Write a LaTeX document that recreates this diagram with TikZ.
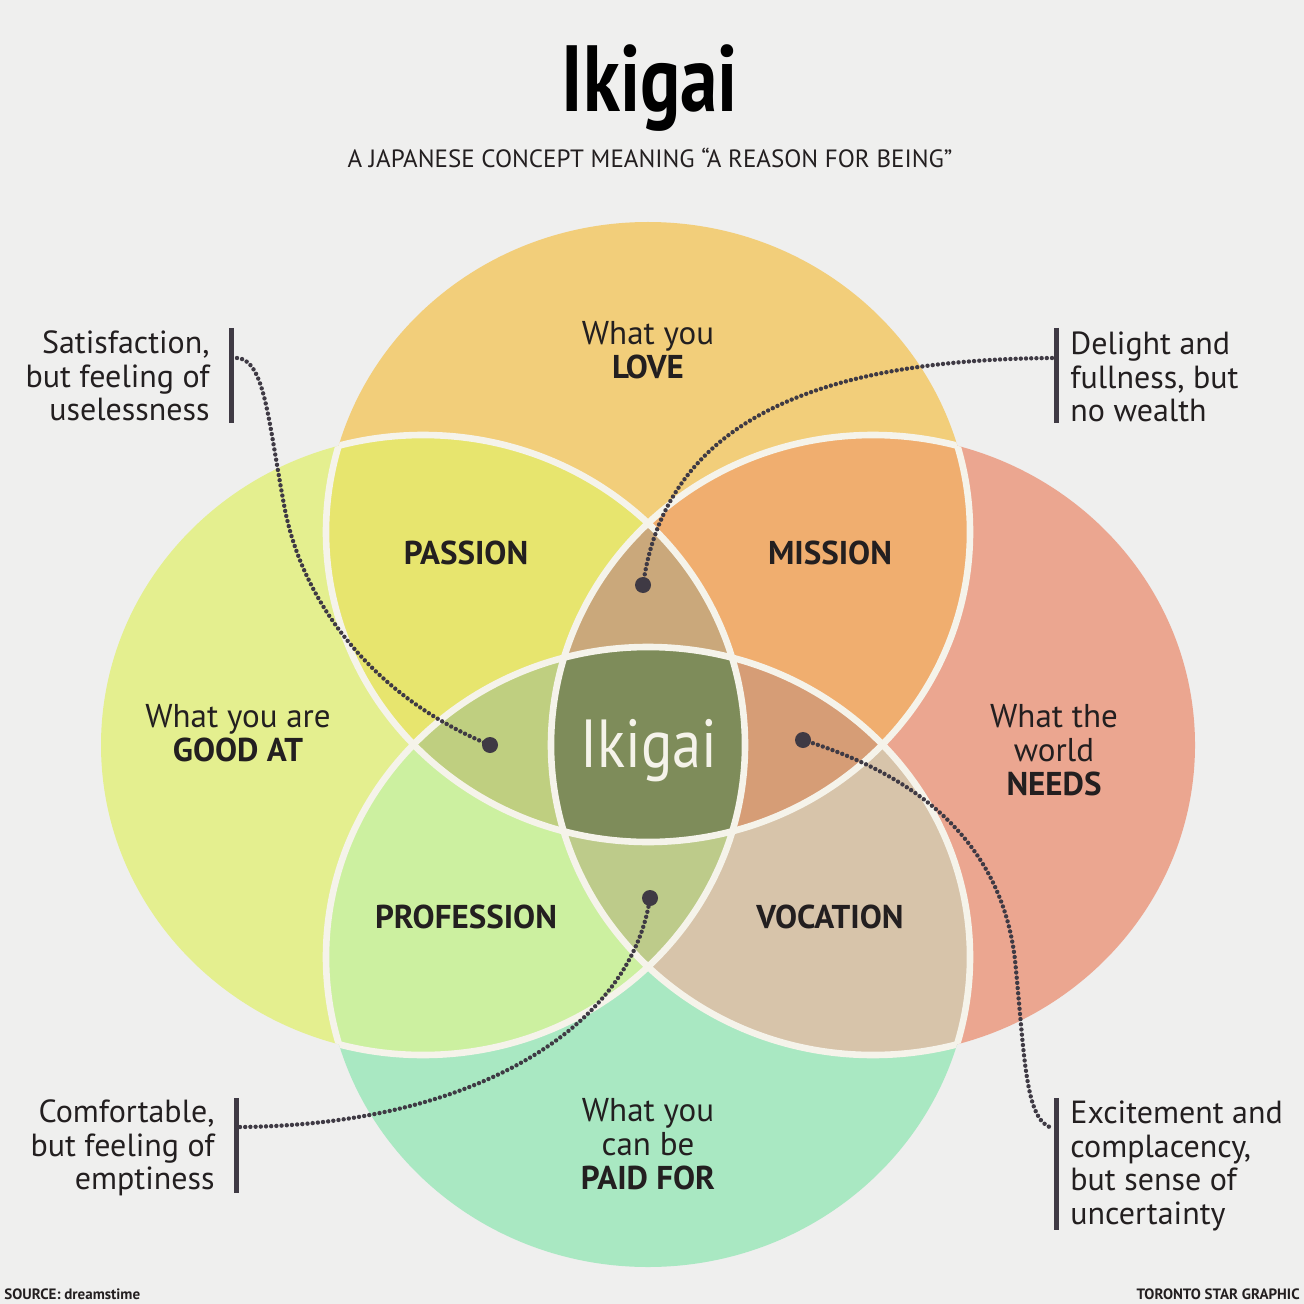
\documentclass[tikz,border=0pt]{standalone}
\usepackage{fontspec}
\setmainfont{PT Sans}
\newfontfamily\titlefont{PT Sans}
\definecolor{bgc}{HTML}{EFEFEE}
\definecolor{lovec}{HTML}{F2CE7A}
\definecolor{goodc}{HTML}{E4EF8F}
\definecolor{needc}{HTML}{EBA690}
\definecolor{paidc}{HTML}{A9E8C2}
\definecolor{passc}{HTML}{E7E56E}
\definecolor{missc}{HTML}{F0AE6F}
\definecolor{profc}{HTML}{CCF0A0}
\definecolor{vocc}{HTML}{D7C4AA}
\definecolor{uplens}{HTML}{CAA87B}
\definecolor{lflens}{HTML}{BFCF80}
\definecolor{rtlens}{HTML}{D69D76}
\definecolor{lolens}{HTML}{BDCB8A}
\definecolor{centc}{HTML}{7E8C5A}
\definecolor{ringc}{HTML}{F5F3EA}
\definecolor{txtc}{HTML}{231F20}
\definecolor{dotc}{HTML}{3F3A44}
\newcommand\ETop{(648,532) ellipse [x radius=161pt, y radius=155pt]}
\newcommand\EBot{(648,957) ellipse [x radius=161pt, y radius=155pt]}
\newcommand\ELeft{(423,745) ellipse [x radius=161pt, y radius=155pt]}
\newcommand\ERight{(873,745) ellipse [x radius=161pt, y radius=155pt]}
\begin{document}
\begin{tikzpicture}[x=0.5pt,y=-0.5pt,
  ring/.style={draw=ringc, line width=3.3pt},
  lbl/.style={text=txtc, align=center, inner sep=0pt, font=\fontsize{16.5}{17}\selectfont},
  bold/.style={text=txtc, inner sep=0pt, font=\fontsize{16.5}{17}\selectfont\bfseries},
  note/.style={text=txtc, inner sep=0pt, font=\fontsize{16}{16.8}\selectfont},
  barline/.style={draw=dotc, line width=2.5pt},
  dotline/.style={draw=dotc, line width=2.2pt, dash pattern=on 0pt off 2.6pt, line cap=round},
  enddot/.style={circle, fill=dotc, minimum size=8pt, inner sep=0pt},
  credit/.style={inner sep=0pt, text=txtc, font=\fontsize{7.5}{8}\selectfont\bfseries}]
\useasboundingbox (0,0) rectangle (1304,1304);
\fill[bgc] (0,0) rectangle (1304,1304);
% single sets
\fill[lovec] \ETop;
\fill[goodc] \ELeft;
\fill[needc] \ERight;
\fill[paidc] \EBot;
% pairs
\begin{scope}
  \clip \ETop;
  \fill[passc] \ELeft;
  \fill[missc] \ERight;
\end{scope}
\begin{scope}
  \clip \EBot;
  \fill[profc] \ELeft;
  \fill[vocc] \ERight;
\end{scope}
% triples
\begin{scope}
  \clip \ETop; \clip \EBot;
  \fill[lflens] \ELeft;
  \fill[rtlens] \ERight;
\end{scope}
\begin{scope}
  \clip \ELeft; \clip \ERight;
  \fill[uplens] \ETop;
  \fill[lolens] \EBot;
\end{scope}
% all four
\begin{scope}
  \clip \ETop; \clip \EBot; \clip \ELeft;
  \fill[centc] \ERight;
\end{scope}
% inner outlines only
\begin{scope}
  \clip \ELeft \ERight \EBot;
  \draw[ring] \ETop;
\end{scope}
\begin{scope}
  \clip \ELeft \ERight \ETop;
  \draw[ring] \EBot;
\end{scope}
\begin{scope}
  \clip \ETop \ERight \EBot;
  \draw[ring] \ELeft;
\end{scope}
\begin{scope}
  \clip \ETop \ELeft \EBot;
  \draw[ring] \ERight;
\end{scope}

% title
\node[anchor=base, inner sep=0pt, text=black, font=\titlefont\fontsize{47}{47}\selectfont\bfseries] (title) at (650,112) {\scalebox{0.8}[1]{Ikigai}};
\node[anchor=base, inner sep=0pt, text=txtc, font=\fontsize{12.5}{13}\selectfont] (subtitle) at (650,168) {A JAPANESE CONCEPT MEANING “A REASON FOR BEING”};

% circle labels
\node[lbl] (love) at (648,350) {What you\\\textbf{LOVE}};
\node[lbl] (good) at (238,733) {What you are\\\textbf{GOOD AT}};
\node[lbl] (needs) at (1054,750) {What the\\world\\\textbf{NEEDS}};
\node[lbl] (paid) at (648,1144) {What you\\can be\\\textbf{PAID FOR}};
\node[bold] (passion) at (466,553) {PASSION};
\node[bold] (mission) at (830,553) {MISSION};
\node[bold] (profession) at (466,917) {PROFESSION};
\node[bold] (vocation) at (830,917) {VOCATION};
\node[anchor=base, inner sep=0pt, text=ringc, font=\fontsize{34}{34}\selectfont] (ikigai) at (649,767) {\scalebox{0.86}[1]{Ikigai}};

% annotations
\node[note, align=right, anchor=east] (satis) at (210,376) {Satisfaction,\\but feeling of\\uselessness};
\node[note, align=left, anchor=west] (delight) at (1070,377) {Delight and\\fullness, but\\no wealth};
\node[note, align=right, anchor=east] (comfort) at (215,1148) {Comfortable,\\but feeling of\\emptiness};
\node[note, align=left, anchor=west] (excite) at (1070,1166) {Excitement and\\complacency,\\but sense of\\uncertainty};

% bars
\draw[barline] (231,328) -- (231,423);
\draw[barline] (1056,328) -- (1056,423);
\draw[barline] (236,1098) -- (236,1193);
\draw[barline] (1056,1098) -- (1056,1230);
\coordinate (sB) at (237,358);
\coordinate (dB) at (1052,358);
\coordinate (cB) at (240,1127);
\coordinate (eB) at (1052,1128);

% end dots
\node[enddot] (sD) at (490,745) {};
\node[enddot] (dD) at (643,585) {};
\node[enddot] (cD) at (650,898) {};
\node[enddot] (eD) at (803,740) {};

% connectors
\draw[dotline] (sB) .. controls (265,360) and (268,420) .. (285,510) .. controls (305,610) and (380,700) .. (sD.center);
\draw[dotline] (dB) .. controls (800,360) and (665,430) .. (dD.center);
\draw[dotline] (cB) .. controls (470,1125) and (630,1030) .. (cD.center);
\draw[dotline] (eD.center) .. controls (900,770) and (1000,830) .. (1015,960) .. controls (1025,1060) and (1025,1120) .. (eB);

% credits at the lower edge
\node[credit, anchor=south west] (source) at (4,1300) {SOURCE: dreamstime};
\node[credit, anchor=south east] (credit) at (1300,1300) {TORONTO STAR GRAPHIC};
\end{tikzpicture}
\end{document}
